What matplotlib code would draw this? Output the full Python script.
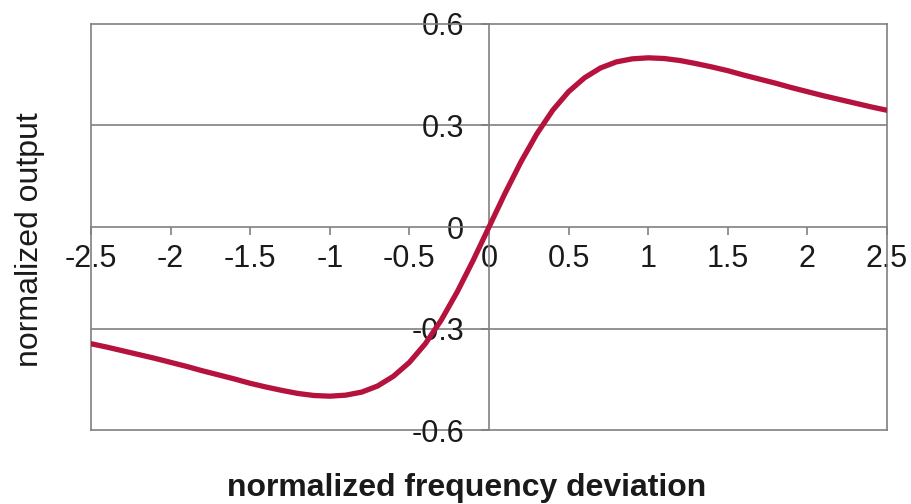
import matplotlib

matplotlib.use("Agg")
import matplotlib.pyplot as plt  # noqa: E402

# curve (normalized frequency deviation vs output)
freq_dev = [-2.5, -2.4, -2.3, -2.2, -2.1, -2.0, -1.9, -1.8, -1.7, -1.6,
            -1.5, -1.4, -1.3, -1.2, -1.1, -1.0, -0.9, -0.8, -0.7, -0.6,
            -0.5, -0.4, -0.3, -0.2, -0.1, 0.0, 0.1, 0.2, 0.3, 0.4,
            0.5, 0.6, 0.7, 0.8, 0.9, 1.0, 1.1, 1.2, 1.3, 1.4,
            1.5, 1.6, 1.7, 1.8, 1.9, 2.0, 2.1, 2.2, 2.3, 2.4, 2.5]
output = [-0.345, -0.355, -0.366, -0.377, -0.388, -0.400, -0.412, -0.425,
          -0.437, -0.449, -0.462, -0.473, -0.483, -0.492, -0.498, -0.500,
          -0.497, -0.488, -0.470, -0.441, -0.400, -0.345, -0.275, -0.192,
          -0.099, 0.000, 0.099, 0.192, 0.275, 0.345, 0.400, 0.441, 0.470,
          0.488, 0.497, 0.500, 0.498, 0.492, 0.483, 0.473, 0.462, 0.449,
          0.437, 0.425, 0.412, 0.400, 0.388, 0.377, 0.366, 0.355, 0.345]

x_ticks = [-2.5, -2.0, -1.5, -1.0, -0.5, 0.0, 0.5, 1.0, 1.5, 2.0, 2.5]
x_labels = ["-2.5", "-2", "-1.5", "-1", "-0.5", "0", "0.5", "1", "1.5", "2", "2.5"]
y_ticks = [-0.6, -0.3, 0.0, 0.3, 0.6]
y_labels = ["-0.6", "-0.3", "0", "0.3", "0.6"]

GRAY = "#808080"
TXT = "#1a1a1a"
plt.rcParams["font.family"] = ["Liberation Sans", "DejaVu Sans"]

fig = plt.figure(figsize=(9.12, 5.04), dpi=100)
ax = fig.add_axes([0.0998, 0.1468, 0.8728, 0.8056])
ax.set_xlim(-2.5, 2.5)
ax.set_ylim(-0.6, 0.6)

# axes cross in the middle, outer box drawn as border
ax.spines["left"].set_position(("data", 0))
ax.spines["bottom"].set_position(("data", 0))
for s in ax.spines.values():
    s.set_color(GRAY)
    s.set_linewidth(1.2)
ax.axvline(-2.5, color=GRAY, lw=1.2, clip_on=False, zorder=1)
ax.axhline(-0.6, color=GRAY, lw=1.2, clip_on=False, zorder=1)
for yv in (-0.3, 0.3):
    ax.axhline(yv, color=GRAY, lw=1.2, zorder=1)

ax.plot(freq_dev, output, color="#B5123E", lw=3.8, solid_capstyle="round",
        zorder=3)

ax.set_xticks(x_ticks)
ax.set_xticklabels(x_labels)
ax.set_yticks(y_ticks)
ax.set_yticklabels(y_labels)
ax.tick_params(axis="x", direction="out", length=6, width=1.2, color=GRAY,
               labelsize=22, labelcolor=TXT, pad=6)
ax.tick_params(axis="y", direction="out", length=6, width=1.2, color=GRAY,
               labelsize=22, labelcolor=TXT, pad=12)

fig.text(0.512, 0.032, "normalized frequency deviation", ha="center",
         va="center", fontsize=23, fontweight="bold", color=TXT,
         family=["Liberation Sans Narrow", "Liberation Sans"])
fig.text(0.033, 0.524, "normalized output", ha="center", va="center",
         rotation=90, fontsize=23, color=TXT)

fig.savefig("out.png", dpi=100)
plt.close(fig)
